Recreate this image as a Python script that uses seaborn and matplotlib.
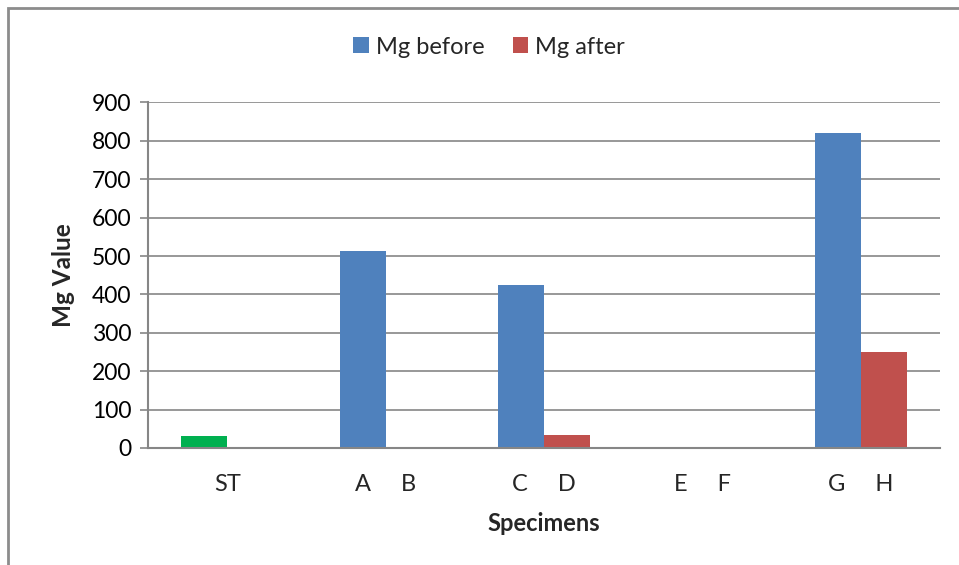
import matplotlib
matplotlib.use("Agg")
import matplotlib.pyplot as plt
import seaborn as sns
import pandas as pd
from matplotlib.patches import Rectangle

categories = ["ST", "A     B", "C     D", "E     F", "G     H"]
series_names = ["Mg before", "Mg after"]
mg_before = [30, 513, 424, 0, 820]
mg_after = [0, 0, 34, 0, 250]
y_ticks = [0, 100, 200, 300, 400, 500, 600, 700, 800, 900]

sns.set_theme(style="white")
plt.rcParams["font.family"] = ["Lato", "DejaVu Sans"]

df = pd.DataFrame({
    "Specimens": categories * 2,
    "Series": [series_names[0]] * len(categories) + [series_names[1]] * len(categories),
    "Mg Value": mg_before + mg_after,
})

blue = "#4F81BD"
red = "#C0504D"
green = "#00B050"
grid_c = "#868686"

fig = plt.figure(figsize=(9.59, 5.65), dpi=100)
ax = fig.add_axes([148 / 959, 1 - 448 / 565, (940 - 148) / 959, (448 - 102.5) / 565])

sns.barplot(data=df, x="Specimens", y="Mg Value", hue="Series",
            palette=[blue, red], width=0.58, saturation=1, ax=ax,
            legend=True, linewidth=0)

# ST bar is drawn in green
ax.patches[0].set_facecolor(green)

ax.set_ylim(0, 900)
ax.set_xlim(-0.5, len(categories) - 0.5)
ax.set_yticks(y_ticks)
ax.set_yticklabels([str(v) for v in y_ticks], fontsize=16.5, color="#000000")
ax.yaxis.grid(True, color=grid_c, linewidth=1.2)
ax.set_axisbelow(True)

ax.set_xticks(range(len(categories)))
ax.set_xticklabels(categories, fontsize=17)
ax.tick_params(axis="x", length=0, pad=19)
ax.set_xticks([i - 0.5 for i in range(len(categories) + 1)], minor=True)
ax.tick_params(axis="x", which="minor", length=8, width=1.5, color=grid_c, direction="out")
ax.tick_params(axis="y", length=6, width=1.2, color=grid_c, direction="out", left=True, pad=6)

for s in ["top", "right"]:
    ax.spines[s].set_visible(False)
for s in ["left", "bottom"]:
    ax.spines[s].set_color(grid_c)
    ax.spines[s].set_linewidth(1.5)

ax.set_xlabel("Specimens", fontsize=17, fontweight="bold", labelpad=12)
ax.set_ylabel("Mg Value", fontsize=17.5, fontweight="bold", labelpad=12)

leg = ax.legend(loc="center", bbox_to_anchor=(0.51, (565 - 47) / 565), bbox_transform=fig.transFigure,
                ncol=2, frameon=False, fontsize=17, handlelength=0.65, handleheight=0.65,
                handletextpad=0.3, columnspacing=1.2)

fig.patches.append(Rectangle((8 / 959, -0.1), 1.2, 1 - 8 / 565 + 0.1, transform=fig.transFigure,
                             fill=False, edgecolor="#8c8c8c", linewidth=2))

fig.savefig("out.png", dpi=100)
